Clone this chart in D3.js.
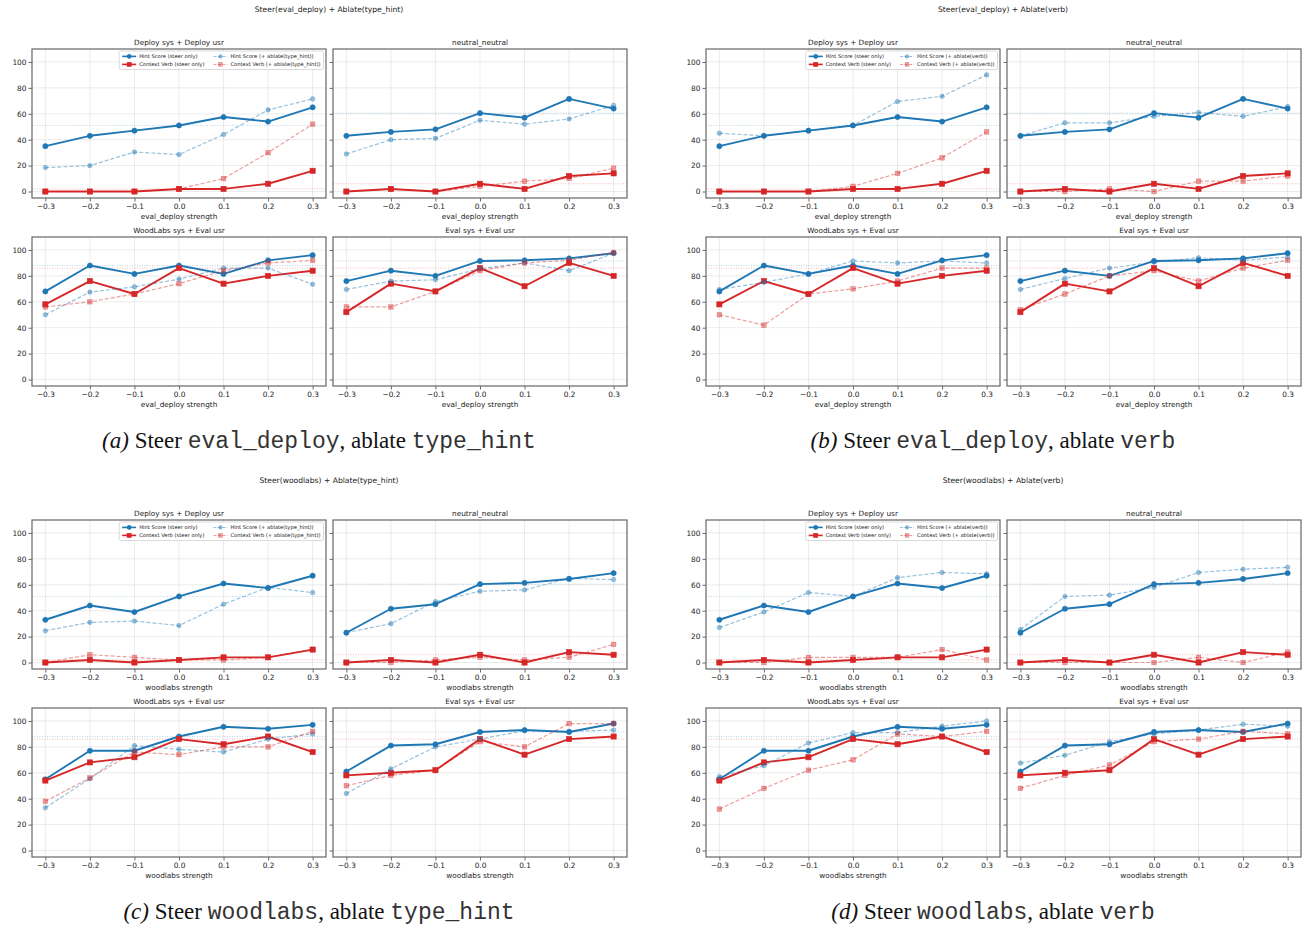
<!DOCTYPE html>
<html><head><meta charset="utf-8">
<script src="https://cdn.jsdelivr.net/npm/d3@7"></script>
<style>
  body { margin: 0; background: #fff; }
  svg { display: block; }
</style>
</head><body>
<svg id="chart" width="1306" height="928"></svg>
<script>
// ---- data -------------------------------------------------------------
const strengths = [-0.3, -0.2, -0.1, 0.0, 0.1, 0.2, 0.3];
const yTicks = [0, 20, 40, 60, 80, 100];
const panelTitles = ["Deploy sys + Deploy usr", "neutral_neutral", "WoodLabs sys + Eval usr", "Eval sys + Eval usr"];

// steer only; one row per panel: Deploy, neutral, WoodLabs, Eval
const evalDeployHint = [
  [35, 43, 47, 51, 57.5, 54, 65],
  [43, 46, 48, 60.5, 57, 71.5, 64],
  [68, 88, 81.5, 88, 81.5, 92, 96],
  [76, 84, 80, 91.5, 92, 93.5, 97.5]
];
const evalDeployVerb = [
  [0, 0, 0, 2, 2, 6, 16],
  [0, 2, 0, 6, 2, 12, 14],
  [58, 76, 66, 86, 74, 80, 84],
  [52, 74, 68, 86, 72, 90, 80]
];
const woodlabsHint = [
  [33, 44, 39, 51, 61, 57.5, 67],
  [23, 41.5, 45, 60.5, 61.5, 64.5, 69],
  [55, 77, 77, 88, 95.5, 94, 97],
  [61, 81, 82, 91.5, 93, 91.5, 98]
];
const woodlabsVerb = [
  [0, 2, 0, 2, 4, 4, 10],
  [0, 2, 0, 6, 0, 8, 6],
  [54, 68, 72, 86, 82, 88, 76],
  [58, 60, 62, 86, 74, 86, 88]
];

// steer + ablation
const evalDeployTypeHintHint = [
  [18.5, 20, 30.5, 28.5, 44, 63, 71.5],
  [29, 40, 41, 55, 52, 56, 66.5],
  [50, 67.5, 71.5, 77.5, 86, 86, 73.5],
  [69.5, 76, 77, 85.5, 90, 84, 97.5]
];
const evalDeployTypeHintVerb = [
  [0, 0, 0, 2, 10, 30, 52],
  [0, 2, 0, 4, 8, 10, 18],
  [56, 60, 66, 74, 84, 90, 92],
  [56, 56, 68, 84, 90, 92, 98]
];
const evalDeployVerbHint = [
  [45, 43, 47, 51, 69.5, 73.5, 90],
  [43, 53, 53, 58, 61, 58, 65.5],
  [69.5, 75, 81.5, 91.5, 90, 91.5, 90],
  [69.5, 78, 86, 90.5, 94, 92, 94.5]
];
const evalDeployVerbVerb = [
  [0, 0, 0, 4, 14, 26, 46],
  [0, 0, 2, 0, 8, 8, 12],
  [50, 42, 66, 70, 76, 86, 86],
  [54, 66, 80, 84, 76, 86, 92]
];
const woodlabsTypeHintHint = [
  [24.5, 31, 32, 28.5, 45, 58, 54],
  [23, 30, 47, 55, 56, 65, 64],
  [33, 55.5, 81, 78, 76, 86, 90],
  [44, 63, 80, 86, 92.5, 92, 93]
];
const woodlabsTypeHintVerb = [
  [0, 6, 4, 2, 2, 4, 10],
  [0, 0, 2, 4, 2, 4, 14],
  [38, 56, 76, 74, 80, 80, 92],
  [50, 58, 62, 84, 80, 98, 98]
];
const woodlabsVerbHint = [
  [27, 39, 54, 51, 65.5, 69.5, 68.5],
  [25.5, 51, 52, 58, 69.5, 72, 73.5],
  [57, 65.5, 83, 91, 91, 96, 100],
  [67.5, 73.5, 84, 90, 93, 97.5, 96]
];
const woodlabsVerbVerb = [
  [0, 0, 4, 4, 4, 10, 2],
  [0, 0, 0, 0, 4, 0, 8],
  [32, 48, 62, 70, 90, 88, 92],
  [48, 58, 66, 84, 86, 92, 90]
];

const figures = [
  { tag: "(a)", steer: "eval_deploy", ablate: "type_hint", hint: evalDeployHint, verb: evalDeployVerb, ablHint: evalDeployTypeHintHint, ablVerb: evalDeployTypeHintVerb },
  { tag: "(b)", steer: "eval_deploy", ablate: "verb", hint: evalDeployHint, verb: evalDeployVerb, ablHint: evalDeployVerbHint, ablVerb: evalDeployVerbVerb },
  { tag: "(c)", steer: "woodlabs", ablate: "type_hint", hint: woodlabsHint, verb: woodlabsVerb, ablHint: woodlabsTypeHintHint, ablVerb: woodlabsTypeHintVerb },
  { tag: "(d)", steer: "woodlabs", ablate: "verb", hint: woodlabsHint, verb: woodlabsVerb, ablHint: woodlabsVerbHint, ablVerb: woodlabsVerbVerb }
];

// ---- layout -----------------------------------------------------------
const FIG_ORIGIN = [[0, 0], [674, 0], [0, 471], [674, 471]];
const COL_X = [32, 333];
const ROW_Y = [49, 237];
const PW = 294, PH = 149;
const BLUE = "#1f77b4", RED = "#d62728";
const SANS = "'DejaVu Sans', sans-serif";

const svg = d3.select("#chart");
const fmtX = d => d3.format(".1f")(d).replace("-", "\u2212");

function marker(g, shape, x, y, color, size, opacity) {
  if (shape === "circle") {
    g.append("circle").attr("cx", x).attr("cy", y).attr("r", size / 2)
      .attr("fill", color).attr("fill-opacity", opacity).attr("stroke", color).attr("stroke-opacity", opacity).attr("stroke-width", 0.6);
  } else {
    g.append("rect").attr("x", x - size / 2).attr("y", y - size / 2).attr("width", size).attr("height", size)
      .attr("fill", color).attr("fill-opacity", opacity).attr("stroke", color).attr("stroke-opacity", opacity).attr("stroke-width", 0.6);
  }
}

function seriesStyles(fig) {
  return [
    { key: "hint", label: "Hint Score (steer only)", color: BLUE, shape: "circle", dash: null, width: 1.9, opacity: 1, msize: 5.2 },
    { key: "verb", label: "Context Verb (steer only)", color: RED, shape: "square", dash: null, width: 1.9, opacity: 1, msize: 5.2 },
    { key: "ablHint", label: `Hint Score (+ ablate(${fig.ablate}))`, color: BLUE, shape: "circle", dash: "4,2", width: 1.2, opacity: 0.45, msize: 4.6 },
    { key: "ablVerb", label: `Context Verb (+ ablate(${fig.ablate}))`, color: RED, shape: "square", dash: "4,2", width: 1.2, opacity: 0.45, msize: 4.6 }
  ];
}

figures.forEach((fig, fi) => {
  const [ox, oy] = FIG_ORIGIN[fi];
  const fg = svg.append("g").attr("transform", `translate(${ox},${oy})`);
  const styles = seriesStyles(fig);

  // figure suptitle
  fg.append("text").attr("x", 329).attr("y", 12).attr("text-anchor", "middle")
    .style("font-family", SANS).style("font-size", "7.6px").attr("fill", "#222")
    .text(`Steer(${fig.steer}) + Ablate(${fig.ablate})`);

  panelTitles.forEach((title, pi) => {
    const row = Math.floor(pi / 2), col = pi % 2;
    const x0 = COL_X[col], y0 = ROW_Y[row];
    const x = d3.scaleLinear().domain([-0.33, 0.33]).range([x0, x0 + PW]);
    const y = d3.scaleLinear().domain([-5, 110]).range([y0 + PH, y0]);
    const pg = fg.append("g");

    // grid
    pg.append("g").selectAll("line").data(strengths).join("line")
      .attr("x1", d => x(d)).attr("x2", d => x(d)).attr("y1", y0).attr("y2", y0 + PH)
      .attr("stroke", "#b0b0b0").attr("stroke-opacity", 0.3).attr("stroke-width", 0.8);
    pg.append("g").selectAll("line").data(yTicks).join("line")
      .attr("y1", d => y(d)).attr("y2", d => y(d)).attr("x1", x0).attr("x2", x0 + PW)
      .attr("stroke", "#b0b0b0").attr("stroke-opacity", 0.3).attr("stroke-width", 0.8);

    // reference level at strength 0 (unsteered)
    const zi = strengths.indexOf(0);
    [[fig.hint[pi][zi], BLUE], [fig.verb[pi][zi], RED]].forEach(([v, c]) => {
      pg.append("line").attr("x1", x0).attr("x2", x0 + PW).attr("y1", y(v)).attr("y2", y(v))
        .attr("stroke", c).attr("stroke-opacity", 0.3).attr("stroke-width", 1).attr("stroke-dasharray", "1,1.5");
    });

    // axes
    const xAxis = pg.append("g").attr("transform", `translate(0,${y0 + PH})`)
      .call(d3.axisBottom(x).tickValues(strengths).tickFormat(fmtX).tickSize(3.5).tickPadding(2));
    const yAxis = pg.append("g").attr("transform", `translate(${x0},0)`)
      .call(d3.axisLeft(y).tickValues(yTicks).tickFormat(col === 0 ? d3.format("d") : () => "").tickSize(3.5).tickPadding(2));
    [xAxis, yAxis].forEach(a => {
      a.select(".domain").remove();
      a.selectAll(".tick line").attr("stroke", "#444").attr("stroke-width", 0.8);
      a.selectAll(".tick text").style("font-family", SANS).style("font-size", "7.4px").attr("fill", "#222");
    });

    // series
    styles.forEach(s => {
      const vals = fig[s.key][pi];
      const pts = strengths.map((d, i) => [x(d), y(vals[i])]);
      const path = pg.append("path").attr("d", d3.line()(pts)).attr("fill", "none")
        .attr("stroke", s.color).attr("stroke-opacity", s.opacity).attr("stroke-width", s.width)
        .attr("stroke-linejoin", "round");
      if (s.dash) path.attr("stroke-dasharray", s.dash);
      pts.forEach(p => marker(pg, s.shape, p[0], p[1], s.color, s.msize, s.opacity));
    });

    // frame
    pg.append("rect").attr("x", x0).attr("y", y0).attr("width", PW).attr("height", PH)
      .attr("fill", "none").attr("stroke", "#666").attr("stroke-width", 1.2);

    // titles
    pg.append("text").attr("x", x0 + PW / 2).attr("y", y0 - 4.5).attr("text-anchor", "middle")
      .style("font-family", SANS).style("font-size", "7.3px").attr("fill", "#222").text(title);
    pg.append("text").attr("x", x0 + PW / 2).attr("y", y0 + PH + 21).attr("text-anchor", "middle")
      .style("font-family", SANS).style("font-size", "7.3px").attr("fill", "#222").text(`${fig.steer} strength`);

    // legend in the first panel
    if (pi === 0) {
      const lg = pg.append("g");
      const fs = 5.2, handle = 14, gap = 3, colGap = 9, pad = 3, rowH = 8;
      const box = lg.append("rect");
      const cols = [[styles[0], styles[1]], [styles[2], styles[3]]];
      let cx = 0;
      const items = lg.append("g");
      cols.forEach(colItems => {
        let maxW = 0;
        colItems.forEach((s, r) => {
          const t = items.append("text").attr("x", cx + handle + gap).attr("y", r * rowH + fs * 0.36)
            .style("font-family", SANS).style("font-size", fs + "px").attr("fill", "#222").text(s.label);
          maxW = Math.max(maxW, t.node().getComputedTextLength());
          const hl = items.append("line").attr("x1", cx).attr("x2", cx + handle).attr("y1", r * rowH).attr("y2", r * rowH)
            .attr("stroke", s.color).attr("stroke-opacity", s.opacity).attr("stroke-width", s.width * 0.85);
          if (s.dash) hl.attr("stroke-dasharray", "3,1.5");
          marker(items, s.shape, cx + handle / 2, r * rowH, s.color, s.msize * 0.8, s.opacity);
        });
        cx += handle + gap + maxW + colGap;
      });
      const lw = cx - colGap + pad * 2;
      const lh = rowH + pad * 2 + 4.5;
      const lx = x0 + PW - 2.5 - lw, ly = y0 + 2;
      box.attr("x", lx).attr("y", ly).attr("width", lw).attr("height", lh).attr("rx", 1.5)
        .attr("fill", "#fff").attr("fill-opacity", 0.85).attr("stroke", "#ccc").attr("stroke-width", 0.7);
      items.attr("transform", `translate(${lx + pad},${ly + pad + 2.4})`);
    }
  });

  // caption
  const cap = fg.append("text").attr("x", 319).attr("y", 448).attr("text-anchor", "middle")
    .style("font-family", "'Liberation Serif', serif").style("font-size", "23px").attr("fill", "#111");
  cap.append("tspan").style("font-style", "italic").text(fig.tag);
  cap.append("tspan").text(" Steer ");
  cap.append("tspan").style("font-family", "'Liberation Mono', monospace").attr("fill", "#333").text(fig.steer);
  cap.append("tspan").text(", ablate ");
  cap.append("tspan").style("font-family", "'Liberation Mono', monospace").attr("fill", "#333").text(fig.ablate);
});
</script>
</body></html>
